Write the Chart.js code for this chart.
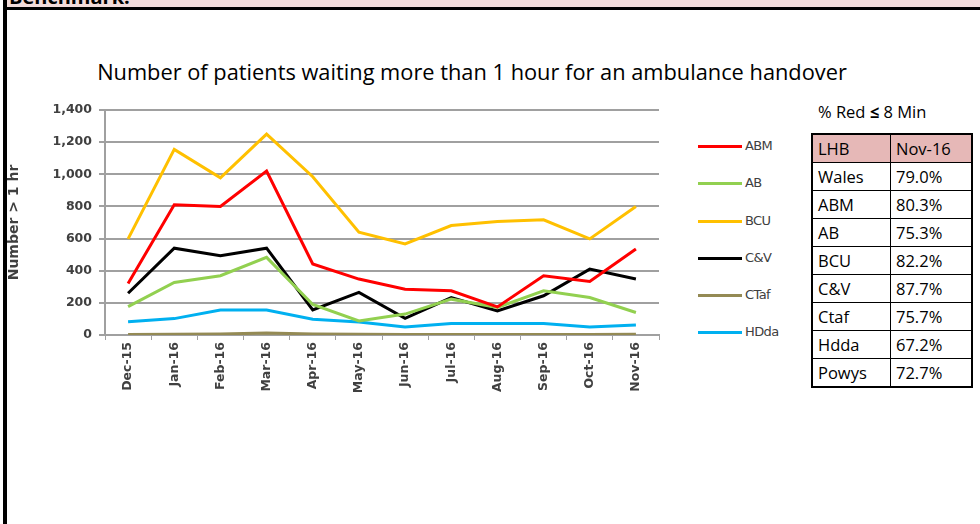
<!DOCTYPE html>
<html>
<head>
<meta charset="utf-8">
<script src="https://cdn.jsdelivr.net/npm/chart.js@4.4.1/dist/chart.umd.min.js"></script>
<style>
  body { margin: 0; width: 980px; height: 524px; overflow: hidden; background: #fff; position: relative; font-family: "Open Sans", sans-serif; }
  .band { position: absolute; left: 7px; top: 0; width: 973px; height: 7px; background: #f2dcdb; overflow: hidden; }
  .band span { position: absolute; left: 2px; top: -17px; font: bold 20px "Open Sans", sans-serif; color: #000; }
  .rule { position: absolute; left: 3px; top: 7px; width: 977px; height: 3px; background: #000; }
  .side { position: absolute; left: 3px; top: 0; width: 4px; height: 524px; background: #000; }
  .title { position: absolute; left: 60px; width: 824px; top: 57px; text-align: center; font-size: 21.8px; color: #000; white-space: nowrap; }
  .chart-wrap { position: absolute; left: 0; top: 90px; width: 680px; height: 340px; }
  .legend { position: absolute; left: 698px; top: 137px; margin: 0; padding: 0; list-style: none; }
  .legend li { height: 37.3px; display: flex; align-items: flex-start; font: 13px "DejaVu Sans", sans-serif; color: #404040; }
  .legend .swatch { width: 44px; height: 3px; margin: 8px 3px 0 0; }
  .legend .name { line-height: 18px; letter-spacing: -0.6px; }
  .tbl-cap { position: absolute; left: 818px; top: 100px; font-size: 16.5px; color: #000; }
  table { position: absolute; left: 811px; top: 133px; border-collapse: collapse; border: 2px solid #000; font-size: 16.5px; }
  td { border: 1px solid #000; height: 27px; padding: 0 0 0 5px; line-height: 27px; color: #000; }
  td:first-child { width: 72px; }
  td:last-child { width: 75px; }
  tr.head td { background: #e6b8b7; }
</style>
</head>
<body>
<div class="band"><span>Benchmark:</span></div>
<div class="side"></div>
<div class="rule"></div>
<div class="title">Number of patients waiting more than 1 hour for an ambulance handover</div>
<div class="chart-wrap"><canvas id="chart" width="680" height="340"></canvas></div>
<ul class="legend"></ul>
<div class="tbl-cap">% Red <b>≤</b> 8 Min</div>
<table id="tbl"></table>
<script>
const months = ['Dec-15', 'Jan-16', 'Feb-16', 'Mar-16', 'Apr-16', 'May-16', 'Jun-16', 'Jul-16', 'Aug-16', 'Sep-16', 'Oct-16', 'Nov-16'];
const abm = [321, 810, 800, 1020, 442, 348, 285, 275, 175, 369, 333, 535];
const ab = [177, 327, 369, 483, 190, 87, 130, 223, 171, 275, 233, 140];
const bcu = [598, 1155, 978, 1250, 985, 640, 567, 681, 706, 717, 598, 800];
const cv = [260, 540, 494, 540, 156, 265, 104, 233, 150, 244, 410, 348];
const ctaf = [3, 5, 6, 12, 6, 4, 3, 3, 3, 3, 3, 4];
const hdda = [83, 102, 156, 156, 98, 81, 50, 71, 71, 71, 50, 62];

const yTicks = [0, 200, 400, 600, 800, 1000, 1200, 1400];

const tableHead = ['LHB', 'Nov-16'];
const boards = ['Wales', 'ABM', 'AB', 'BCU', 'C&V', 'Ctaf', 'Hdda', 'Powys'];
const redPct = ['79.0%', '80.3%', '75.3%', '82.2%', '87.7%', '75.7%', '67.2%', '72.7%'];

const $tbl = document.getElementById('tbl');
$tbl.innerHTML = `<tr class="head"><td>${tableHead[0]}</td><td>${tableHead[1]}</td></tr>` +
  boards.map((b, i) => `<tr><td>${b.replace('&', '&amp;')}</td><td>${redPct[i]}</td></tr>`).join('');

const series = [
  { label: 'ABM', data: abm, color: '#ff0000' },
  { label: 'AB', data: ab, color: '#92d050' },
  { label: 'BCU', data: bcu, color: '#ffc000' },
  { label: 'C&V', data: cv, color: '#000000' },
  { label: 'CTaf', data: ctaf, color: '#948a54' },
  { label: 'HDda', data: hdda, color: '#00b0f0' },
];

const tickFont = { family: 'DejaVu Sans', size: 12.5, weight: 'bold' };

const chart = new Chart(document.getElementById('chart'), {
  type: 'line',
  data: {
    labels: months,
    datasets: series.map(s => ({
      label: s.label,
      data: s.data,
      borderColor: s.color,
      backgroundColor: s.color,
      borderWidth: 3,
      pointRadius: 0,
      tension: 0,
    }))
  },
  options: {
    responsive: false,
    animation: false,
    layout: { padding: { top: 20, right: 21, left: 0, bottom: 0 } },
    plugins: {
      legend: { display: false },
      tooltip: { enabled: false },
    },
    scales: {
      x: {
        offset: true,
        grid: { offset: true, drawOnChartArea: false, color: '#a0a0a0', tickLength: 5 },
        border: { color: '#a0a0a0', width: 2 },
        ticks: { color: '#404040', font: tickFont, minRotation: 90, maxRotation: 90, padding: 2, autoSkip: false },
        afterFit: scale => { scale.height = 95; }
      },
      y: {
        min: 0,
        max: 1400,
        afterBuildTicks: scale => { scale.ticks = yTicks.map(v => ({ value: v })); },
        grid: { color: '#a0a0a0', lineWidth: 2, tickLength: 6 },
        border: { color: '#a0a0a0', width: 2 },
        ticks: {
          color: '#404040',
          font: tickFont,
          padding: 7,
          callback: v => v.toLocaleString('en-US')
        },
        title: {
          display: true,
          text: 'Number > 1 hr',
          color: '#404040',
          font: { family: 'DejaVu Sans', size: 14, weight: 'bold' },
          padding: { top: 6, bottom: 0 }
        },
        afterFit: scale => { scale.width = 105; }
      }
    }
  },
  plugins: [{
    afterInit: c => {
      const ul = document.querySelector('.legend');
      c.data.datasets.forEach(ds => {
        ul.innerHTML += `<li><span class="swatch" style="background:${ds.borderColor}"></span><span class="name">${ds.label.replace('&', '&amp;')}</span></li>`;
      });
    }
  }]
});
</script>
</body>
</html>
